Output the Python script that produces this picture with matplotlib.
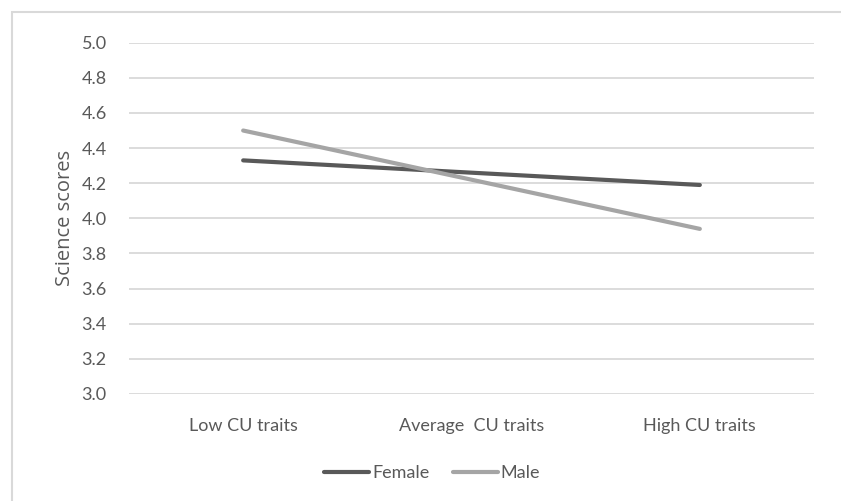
import matplotlib
matplotlib.use("Agg")
import matplotlib.pyplot as plt
from matplotlib.patches import Rectangle

# data
categories = ["Low CU traits", "Average  CU traits", "High CU traits"]
female = [4.33, 4.26, 4.19]
male = [4.50, 4.22, 3.94]
y_ticks = [3.0, 3.2, 3.4, 3.6, 3.8, 4.0, 4.2, 4.4, 4.6, 4.8, 5.0]

plt.rcParams["font.family"] = ["Lato", "DejaVu Sans"]
text_color = "#595959"

fig = plt.figure(figsize=(8.41, 5.01), dpi=100)
ax = fig.add_axes([129 / 841, 1 - 394 / 501, 685 / 841, (394 - 42.7) / 501])

x = range(len(categories))
ax.plot(x, female, color="#595959", lw=3, solid_capstyle="round", label="Female", zorder=3)
ax.plot(x, male, color="#A5A5A5", lw=3, solid_capstyle="round", label="Male", zorder=3)

ax.set_xlim(-0.5, 2.5)
ax.set_ylim(3.0, 5.0)
ax.set_yticks(y_ticks)
ax.set_yticklabels([f"{v:.1f}" for v in y_ticks])
ax.set_xticks(list(x))
ax.set_xticklabels(categories)
ax.grid(axis="y", color="#D9D9D9", lw=1.3)
ax.set_axisbelow(True)
for s in ax.spines.values():
    s.set_visible(False)
ax.tick_params(length=0, colors=text_color, labelsize=13)
ax.tick_params(axis="y", pad=16)
ax.tick_params(axis="x", pad=17)
ax.set_ylabel("Science scores", color=text_color, fontsize=14.5,
              family=["Open Sans", "DejaVu Sans"], labelpad=5)

leg = fig.legend(loc="center", bbox_to_anchor=(432 / 841, 1 - 473 / 501), ncol=2,
                 frameon=False, fontsize=13, handlelength=2.5, handletextpad=0.15,
                 columnspacing=1.3)
for t in leg.get_texts():
    t.set_color(text_color)

# outer chart border (only top/left visible in the crop)
fig.patches.append(Rectangle((12 / 841, -0.05), 1.05, 1 - 12 / 501 + 0.05,
                             transform=fig.transFigure, fill=False,
                             edgecolor="#D9D9D9", lw=1.5))

fig.savefig("out.png", dpi=100)
